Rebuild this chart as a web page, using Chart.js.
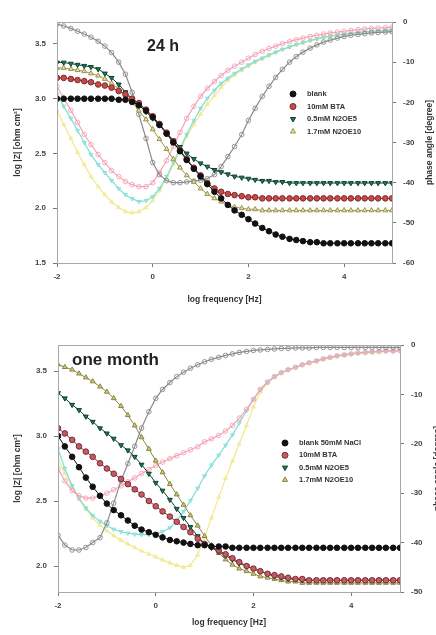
<!DOCTYPE html>
<html>
<head>
<meta charset="utf-8">
<script src="https://cdn.jsdelivr.net/npm/chart.js@4.4.0/dist/chart.umd.min.js"></script>
<style>
body { margin: 0; background: #fff; overflow: hidden; }
canvas { display: block; }
</style>
</head>
<body>
<canvas id="top" width="436" height="310"></canvas>
<canvas id="bottom" width="436" height="325"></canvas>
<script>
// log frequency [Hz], 7 points per decade
var freq = [-2.00,-1.86,-1.71,-1.57,-1.43,-1.29,-1.14,
            -1.00,-0.86,-0.71,-0.57,-0.43,-0.29,-0.14,
             0.00, 0.14, 0.29, 0.43, 0.57, 0.71, 0.86,
             1.00, 1.14, 1.29, 1.43, 1.57, 1.71, 1.86,
             2.00, 2.14, 2.29, 2.43, 2.57, 2.71, 2.86,
             3.00, 3.14, 3.29, 3.43, 3.57, 3.71, 3.86,
             4.00, 4.14, 4.29, 4.43, 4.57, 4.71, 4.86,
             5.00];

var xTicks = [-2, 0, 2, 4];
var zTicksTop = [1.5, 2.0, 2.5, 3.0, 3.5];
var phTicksTop = [-60, -50, -40, -30, -20, -10, 0];
var zTicksBottom = [2.0, 2.5, 3.0, 3.5];
var phTicksBottom = [-50, -40, -30, -20, -10, 0];

var labelsTop = ['blank', '10mM BTA', '0.5mM N2OE5', '1.7mM N2OE10'];
var labelsBottom = ['blank 50mM NaCl', '10mM BTA', '0.5mM N2OE5', '1.7mM N2OE10'];

// ---- 24 h ----
var zBlank24 = [3.00,3.00,3.00,3.00,3.00,3.00,3.00, 3.00,3.00,2.99,2.99,2.97,2.94,2.89,
  2.83,2.76,2.68,2.60,2.52,2.44,2.36, 2.29,2.22,2.15,2.09,2.03,1.98,1.94,
  1.90,1.86,1.82,1.79,1.76,1.74,1.72, 1.71,1.70,1.69,1.69,1.68,1.68,1.68,
  1.68,1.68,1.68,1.68,1.68,1.68,1.68, 1.68];
var zBTA24 = [3.19,3.19,3.18,3.17,3.16,3.15,3.13, 3.12,3.10,3.07,3.04,3.00,2.96,2.90,
  2.84,2.77,2.69,2.61,2.53,2.45,2.37, 2.30,2.23,2.18,2.15,2.13,2.12,2.11,
  2.10,2.10,2.09,2.09,2.09,2.09,2.09, 2.09,2.09,2.09,2.09,2.09,2.09,2.09,
  2.09,2.09,2.09,2.09,2.09,2.09,2.09, 2.09];
var zN5_24 = [3.33,3.33,3.32,3.31,3.30,3.29,3.27, 3.23,3.19,3.13,3.06,3.00,2.94,2.88,
  2.82,2.76,2.69,2.62,2.56,2.50,2.45, 2.41,2.38,2.35,2.33,2.31,2.29,2.28,
  2.27,2.26,2.25,2.25,2.24,2.24,2.23, 2.23,2.23,2.23,2.23,2.23,2.23,2.23,
  2.23,2.23,2.23,2.23,2.23,2.23,2.23, 2.23];
var zN10_24 = [3.28,3.28,3.27,3.26,3.25,3.23,3.21, 3.18,3.14,3.09,3.03,2.97,2.89,2.81,
  2.72,2.63,2.54,2.45,2.37,2.30,2.24, 2.18,2.13,2.09,2.06,2.03,2.01,2.00,
  1.99,1.99,1.98,1.98,1.98,1.98,1.98, 1.98,1.98,1.98,1.98,1.98,1.98,1.98,
  1.98,1.98,1.98,1.98,1.98,1.98,1.98, 1.98];
var phBlank24 = [-0.5,-1.0,-1.6,-2.3,-3.0,-3.8,-4.8, -6.0,-7.6,-10.0,-13.0,-17.5,-23.0,-29.0,
  -35.0,-38.0,-39.5,-40.0,-40.0,-39.8,-39.6, -39.4,-39.0,-38.0,-36.0,-33.5,-31.0,-28.0,
  -24.5,-21.5,-18.5,-16.0,-13.8,-11.8,-10.0, -8.6,-7.5,-6.5,-5.7,-5.0,-4.5,-4.0,
  -3.6,-3.3,-3.1,-2.9,-2.7,-2.6,-2.5, -2.4];
var phBTA24 = [-16,-19,-22,-25,-28,-30.5,-33, -35,-37,-38.5,-39.7,-40.5,-41,-41,
  -40,-37.5,-34.5,-31,-27.5,-24,-21, -18.5,-16.5,-14.8,-13.3,-12,-11,-10,
  -9,-8.1,-7.3,-6.6,-6,-5.4,-4.9, -4.4,-4,-3.6,-3.3,-3,-2.7,-2.5,
  -2.3,-2.1,-1.9,-1.7,-1.6,-1.5,-1.4, -1.3];
var phN5_24 = [-18,-21,-24,-27,-30,-33,-35.5, -37.5,-39.5,-41.5,-43,-44,-44.7,-44.5,
  -43.5,-41.5,-38.5,-35,-31.5,-28,-24.5, -21.5,-19,-17,-15.3,-14,-12.8,-11.7,
  -10.7,-9.8,-9,-8.2,-7.5,-6.8,-6.2, -5.6,-5.1,-4.6,-4.2,-3.8,-3.5,-3.2,
  -3,-2.8,-2.6,-2.4,-2.3,-2.2,-2.1, -2];
var phN10_24 = [-22,-25.5,-29,-32.5,-35.5,-38.5,-41, -43,-44.8,-46.2,-47.2,-47.5,-47.2,-46.2,
  -44.5,-42,-39,-35.5,-32,-28.5,-25.5, -23,-20.5,-18.3,-16.3,-14.6,-13.2,-12,
  -11,-10,-9.2,-8.4,-7.6,-6.9,-6.3, -5.7,-5.2,-4.7,-4.3,-3.9,-3.6,-3.3,
  -3.1,-2.9,-2.7,-2.5,-2.3,-2.2,-2.1, -2];

// ---- one month ----
var zBlankM = [3.00,2.92,2.84,2.76,2.68,2.61,2.54, 2.48,2.43,2.39,2.35,2.31,2.28,2.26,
  2.24,2.22,2.20,2.19,2.18,2.17,2.16, 2.16,2.15,2.15,2.15,2.14,2.14,2.14,
  2.14,2.14,2.14,2.14,2.14,2.14,2.14, 2.14,2.14,2.14,2.14,2.14,2.14,2.14,
  2.14,2.14,2.14,2.14,2.14,2.14,2.14, 2.14];
var zBTAM = [3.06,3.02,2.97,2.92,2.88,2.84,2.79, 2.75,2.71,2.67,2.63,2.59,2.55,2.50,
  2.46,2.42,2.38,2.34,2.30,2.26,2.21, 2.17,2.15,2.12,2.09,2.06,2.03,2.00,
  1.98,1.96,1.94,1.93,1.92,1.91,1.90, 1.90,1.89,1.89,1.89,1.89,1.89,1.89,
  1.89,1.89,1.89,1.89,1.89,1.89,1.89, 1.89];
var zN5M = [3.33,3.29,3.24,3.20,3.15,3.11,3.06, 3.02,2.98,2.93,2.89,2.84,2.78,2.71,
  2.64,2.58,2.51,2.44,2.37,2.30,2.23, 2.17,2.14,2.11,2.08,2.05,2.02,2.00,
  1.98,1.96,1.94,1.92,1.91,1.90,1.90, 1.89,1.89,1.89,1.89,1.89,1.89,1.89,
  1.89,1.89,1.89,1.89,1.89,1.89,1.89, 1.89];
var zN10M = [3.55,3.53,3.51,3.48,3.45,3.42,3.38, 3.34,3.29,3.23,3.16,3.08,2.99,2.90,
  2.81,2.72,2.63,2.55,2.47,2.39,2.31, 2.23,2.16,2.10,2.05,2.01,1.98,1.96,
  1.94,1.92,1.91,1.90,1.89,1.88,1.88, 1.87,1.87,1.87,1.87,1.87,1.87,1.87,
  1.87,1.87,1.87,1.87,1.87,1.87,1.87, 1.87];
var phBlankM = [-38.5,-40.5,-41.5,-41.5,-41,-40,-39, -36,-32,-27.5,-24,-20.5,-16.8,-13.5,
  -10.8,-9,-7.6,-6.4,-5.5,-4.7,-4, -3.4,-2.9,-2.5,-2.1,-1.8,-1.5,-1.3,
  -1.1,-1,-0.9,-0.8,-0.7,-0.7,-0.6, -0.6,-0.6,-0.5,-0.5,-0.5,-0.5,-0.5,
  -0.5,-0.5,-0.5,-0.5,-0.5,-0.5,-0.5, -0.5];
var phBTAM = [-25,-27.5,-29.5,-30.5,-31,-31,-30.5, -30,-29.3,-28.5,-27.7,-26.9,-26,-25.2,
  -24.4,-23.7,-23,-22.4,-21.8,-21.2,-20.6, -19.6,-19,-18.3,-17.4,-16.3,-14.8,-13,
  -11,-9,-7.5,-6.4,-5.6,-5,-4.5, -4,-3.6,-3.2,-2.8,-2.5,-2.2,-2,
  -1.8,-1.6,-1.5,-1.4,-1.3,-1.2,-1.2, -1.1];
var phN5M = [-21,-25,-28.5,-31,-33,-34.5,-35.7, -36.6,-37.3,-37.8,-38.1,-38.3,-38.4,-38.4,
  -38.2,-37.8,-37,-35.6,-33.7,-31.5,-29, -26.5,-24.3,-22.3,-20.3,-18.2,-15.8,-13.3,
  -11,-9,-7.5,-6.4,-5.6,-5,-4.5, -4,-3.6,-3.2,-2.8,-2.5,-2.2,-2,
  -1.8,-1.6,-1.5,-1.4,-1.3,-1.2,-1.2, -1.1];
var phN10M = [-23,-26,-28.8,-31.2,-33.2,-35,-36.5, -37.6,-38.6,-39.5,-40.3,-41,-41.7,-42.3,
  -42.9,-43.5,-44.1,-44.6,-45,-44.6,-42.5, -39,-35,-30.8,-27,-23.5,-20,-16.3,
  -12.5,-9.5,-7.7,-6.5,-5.7,-5.1,-4.6, -4.1,-3.7,-3.3,-2.9,-2.6,-2.3,-2.1,
  -1.9,-1.7,-1.6,-1.5,-1.4,-1.3,-1.3, -1.2];

var FONT = '"Liberation Sans", Arial, sans-serif';

function pts(ys) {
  return freq.map(function (x, i) { return { x: x, y: ys[i] }; });
}

function zSet(ys, style, fill, edge, rot) {
  return {
    data: pts(ys), yAxisID: 'y', order: 0,
    borderColor: edge, borderWidth: 1, showLine: true,
    pointStyle: style, pointRotation: rot || 0, pointRadius: 2.8,
    pointBackgroundColor: fill, pointBorderColor: edge, pointBorderWidth: 1
  };
}

function phSet(ys, style, col, rot) {
  return {
    data: pts(ys), yAxisID: 'y1', order: 1,
    borderColor: col, borderWidth: 1.2, showLine: true,
    pointStyle: style, pointRotation: rot || 0, pointRadius: 2.3,
    pointBackgroundColor: 'rgba(255,255,255,0)', pointBorderColor: col, pointBorderWidth: 0.9
  };
}

var tickFont = { family: FONT, size: 8, weight: 'bold' };

var decor = {
  id: 'decor',
  afterDraw: function (chart, args, o) {
    var ctx = chart.ctx, a = chart.chartArea;
    ctx.save();
    // frame
    ctx.strokeStyle = '#a8a8a8';
    ctx.lineWidth = 1;
    ctx.strokeRect(a.left + 0.5, a.top + 0.5, a.right - a.left, a.bottom - a.top);
    // panel label
    ctx.fillStyle = '#222';
    ctx.font = 'bold ' + o.labelSize + 'px ' + FONT;
    ctx.textBaseline = 'middle';
    ctx.textAlign = 'left';
    ctx.fillText(o.label, o.labelX, o.labelY);
    // axis titles
    ctx.font = 'bold 8.5px ' + FONT;
    ctx.fillStyle = '#333';
    ctx.textAlign = 'center';
    ctx.fillText('log frequency [Hz]', (a.left + a.right) / 2, o.xTitleY);
    var mid = (a.top + a.bottom) / 2;
    ctx.save();
    ctx.translate(18, mid);
    ctx.rotate(-Math.PI / 2);
    ctx.fillText('log |Z| [ohm cm\u00B2]', 0, 0);
    ctx.restore();
    ctx.save();
    ctx.translate(o.rightTitleX, mid);
    ctx.rotate(-Math.PI / 2);
    ctx.fillText('phase angle [degree]', 0, 0);
    ctx.restore();
    // legend
    ctx.font = 'bold 7.5px ' + FONT;
    ctx.textAlign = 'left';
    o.legend.forEach(function (lab, i) {
      var ds = chart.data.datasets[i];
      var y = o.legY + i * o.legDy;
      ctx.fillStyle = ds.pointBackgroundColor;
      ctx.strokeStyle = ds.pointBorderColor;
      ctx.lineWidth = 1;
      Chart.helpers.drawPoint(ctx, { pointStyle: ds.pointStyle, radius: 3, rotation: ds.pointRotation, borderWidth: 1 }, o.legX, y);
      ctx.fillStyle = '#333';
      ctx.fillText(lab, o.legX + 14, y);
    });
    ctx.restore();
  }
};

function axis(pos, min, max, ticks, fmt, fit) {
  return {
    type: 'linear', position: pos, min: min, max: max,
    afterBuildTicks: function (s) { s.ticks = ticks.map(function (v) { return { value: v }; }); },
    afterFit: fit,
    grid: { drawOnChartArea: false, drawTicks: true, tickLength: 4, color: '#777' },
    border: { display: true, color: '#a8a8a8' },
    ticks: { font: tickFont, color: '#444', padding: pos === 'bottom' ? 5 : 7, maxRotation: 0, autoSkip: false, callback: fmt }
  };
}

function makeChart(id, sets, cfg) {
  return new Chart(document.getElementById(id), {
    type: 'line',
    data: { datasets: sets },
    options: {
      responsive: false, animation: false, devicePixelRatio: 1,
      layout: { padding: { top: cfg.padTop, left: 0, right: 0, bottom: 0 } },
      plugins: { legend: { display: false }, tooltip: { enabled: false }, decor: cfg.decor },
      scales: {
        x: axis('bottom', -2, 5, xTicks, function (v) { return String(v); }, function (s) { s.height = cfg.xH; }),
        y: axis('left', cfg.zMin, cfg.zMax, cfg.zTicks, function (v) { return v.toFixed(1); }, function (s) { s.width = cfg.leftW; }),
        y1: axis('right', cfg.phMin, 0, cfg.phTicks, function (v) { return String(v); }, function (s) { s.width = cfg.rightW; })
      }
    },
    plugins: [decor]
  });
}

makeChart('top', [
  zSet(zBlank24, 'circle', '#111', '#111'),
  zSet(zBTA24, 'circle', '#c9484a', '#7a2a2a'),
  zSet(zN5_24, 'triangle', '#1e7a60', '#0f3f30', 180),
  zSet(zN10_24, 'triangle', '#e4df9c', '#9a9450'),
  phSet(phBlank24, 'circle', '#8a8a8a'),
  phSet(phBTA24, 'circle', '#f4a3b4'),
  phSet(phN5_24, 'triangle', '#7fdcd6', 180),
  phSet(phN10_24, 'triangle', '#f2e88a')
], {
  padTop: 22, xH: 47, leftW: 57, rightW: 44,
  zMin: 1.5, zMax: 3.7, zTicks: zTicksTop, phMin: -60, phTicks: phTicksTop,
  decor: { label: '24 h', labelSize: 16, labelX: 147, labelY: 47, xTitleY: 300, rightTitleX: 430,
           legend: labelsTop, legX: 293, legY: 94, legDy: 12.5 }
});

makeChart('bottom', [
  zSet(zBlankM, 'circle', '#111', '#111'),
  zSet(zBTAM, 'circle', '#c45a64', '#7a2a30'),
  zSet(zN5M, 'triangle', '#1e7a60', '#0f3f30', 180),
  zSet(zN10M, 'triangle', '#cfc97a', '#8a8440'),
  phSet(phBlankM, 'circle', '#8a8a8a'),
  phSet(phBTAM, 'circle', '#f4a3b4'),
  phSet(phN5M, 'triangle', '#7fdcd6', 180),
  phSet(phN10M, 'triangle', '#f2e88a')
], {
  padTop: 35, xH: 43, leftW: 58, rightW: 36,
  zMin: 1.8, zMax: 3.7, zTicks: zTicksBottom, phMin: -50, phTicks: phTicksBottom,
  decor: { label: 'one month', labelSize: 17, labelX: 72, labelY: 50, xTitleY: 313, rightTitleX: 438,
           legend: labelsBottom, legX: 285, legY: 133, legDy: 12.3 }
});
</script>
</body>
</html>
